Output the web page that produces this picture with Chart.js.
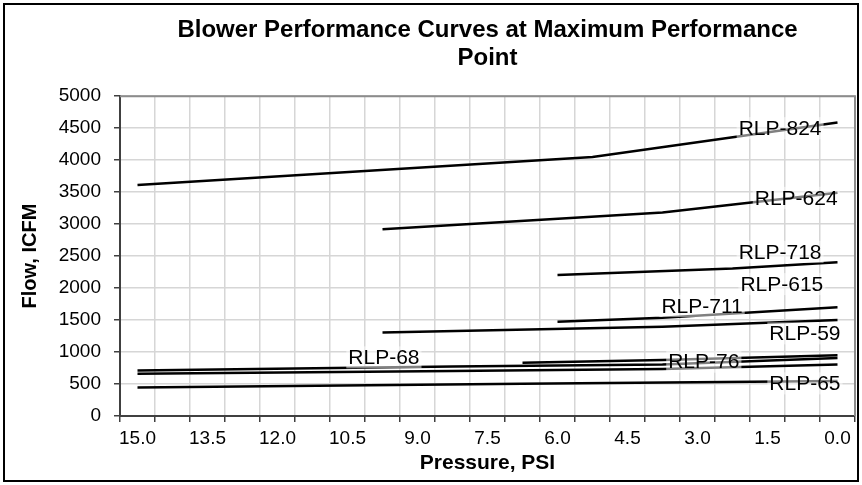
<!DOCTYPE html>
<html>
<head>
<meta charset="utf-8">
<script src="https://cdn.jsdelivr.net/npm/chart.js@4.4.1/dist/chart.umd.min.js"></script>
<style>
  html, body { margin: 0; padding: 0; background: #fff; }
  #wrap { width: 862px; height: 485px; position: relative; }
</style>
</head>
<body>
<div id="wrap"><canvas id="perfChart"></canvas></div>
<script>
// pressure categories, PSI (axis runs high -> low)
const pressures = [15.0, 14.25, 13.5, 12.75, 12.0, 11.25, 10.5, 9.75, 9.0, 8.25, 7.5,
                   6.75, 6.0, 5.25, 4.5, 3.75, 3.0, 2.25, 1.5, 0.75, 0.0];

// flow, ICFM (null = no reading at that pressure)
const rlp824 = [3610, null, null, null, null, null, null, null, null, null, null, null, null, 4050, null, null, null, null, null, null, 4590];
const rlp624 = [null, null, null, null, null, null, null, 2920, null, null, null, null, null, null, null, 3180, null, null, null, null, 3490];
const rlp718 = [null, null, null, null, null, null, null, null, null, null, null, null, 2205, null, null, null, null, 2305, null, null, 2405];
const rlp615 = [null, null, null, null, null, null, null, null, null, null, null, null, 1475, null, null, 1535, null, null, null, null, 1700];
const rlp711 = [null, null, null, null, null, null, null, 1305, null, null, null, null, null, null, null, 1395, null, null, null, null, 1500];
const rlp59  = [null, null, null, null, null, null, null, null, null, null, null, 833, null, null, null, 875, null, null, null, null, 950];
const rlp68  = [712, null, null, null, null, null, null, null, null, 775, null, null, null, null, null, 805, null, null, null, null, 905];
const rlp76  = [662, null, null, null, null, null, null, null, null, 705, null, null, null, null, null, 735, null, null, null, null, 805];
const rlp65  = [445, null, null, null, null, null, null, null, null, null, null, 505, null, null, null, null, null, null, null, null, 548];

// curve name labels: name, category position, flow
const tagNames = ['RLP-824', 'RLP-624', 'RLP-718', 'RLP-615', 'RLP-711', 'RLP-59', 'RLP-68', 'RLP-76', 'RLP-65'];
const tagAt    = [18.36, 18.82, 18.36, 18.41, 16.13, 19.07, 7.04, 16.18, 19.07];
const tagFlow  = [4500, 3411, 2567, 2062, 1719, 1292, 917, 849, 510];

const yTicks = [0, 500, 1000, 1500, 2000, 2500, 3000, 3500, 4000, 4500, 5000];

Chart.defaults.font.family = '"Liberation Sans", Arial, sans-serif';
Chart.defaults.color = '#000';

function line(name, data) {
    return {
        label: name,
        data: data,
        borderColor: '#000',
        borderWidth: 2.5,
        pointRadius: 0,
        spanGaps: true,
        tension: 0
    };
}

// gray frame on top/right of plot, black frame round the whole chart
const framePlugin = {
    id: 'frame',
    beforeDatasetsDraw(chart) {
        const { ctx, chartArea: a } = chart;
        ctx.save();
        ctx.strokeStyle = '#8c8c8c';
        ctx.lineWidth = 2;
        ctx.beginPath();
        ctx.moveTo(a.left, a.top);
        ctx.lineTo(a.right, a.top);
        ctx.lineTo(a.right, a.bottom);
        ctx.stroke();
        ctx.restore();
    },
    afterDraw(chart) {
        const { ctx } = chart;
        ctx.save();
        ctx.strokeStyle = '#000';
        ctx.lineWidth = 2;
        ctx.strokeRect(4, 4, 854, 477);
        ctx.restore();
    }
};

// curve names, with a half see-through white box like the original
const tagPlugin = {
    id: 'tags',
    afterDatasetsDraw(chart) {
        const { ctx, scales } = chart;
        ctx.save();
        ctx.font = '21px "Liberation Sans", Arial, sans-serif';
        ctx.textAlign = 'center';
        ctx.textBaseline = 'middle';
        tagNames.forEach((name, i) => {
            const x = scales.x.getPixelForValue(tagAt[i]);
            const y = scales.y.getPixelForValue(tagFlow[i]);
            const w = ctx.measureText(name).width + 4;
            ctx.fillStyle = 'rgba(255,255,255,0.5)';
            ctx.fillRect(x - w / 2, y - 11, w, 22);
            ctx.fillStyle = '#000';
            ctx.fillText(name, x, y + 1);
        });
        ctx.restore();
    }
};

new Chart(document.getElementById('perfChart'), {
    type: 'line',
    data: {
        labels: pressures,
        datasets: [
            line('RLP-824', rlp824),
            line('RLP-624', rlp624),
            line('RLP-718', rlp718),
            line('RLP-615', rlp615),
            line('RLP-711', rlp711),
            line('RLP-59', rlp59),
            line('RLP-68', rlp68),
            line('RLP-76', rlp76),
            line('RLP-65', rlp65)
        ]
    },
    options: {
        responsive: true,
        maintainAspectRatio: false,
        animation: false,
        layout: { padding: { top: 5, right: 7, left: 0, bottom: 0 } },
        plugins: {
            legend: { display: false },
            tooltip: { enabled: false },
            title: {
                display: true,
                fullSize: false,
                text: ['Blower Performance Curves at Maximum Performance', 'Point'],
                font: { size: 24, weight: 'bold', lineHeight: 1.15 },
                color: '#000',
                padding: { top: 12, bottom: 24 }
            }
        },
        scales: {
            x: {
                type: 'category',
                offset: true,
                grid: { offset: true, color: '#d6d6d6', lineWidth: 1.5, tickColor: '#404040', tickLength: 6 },
                border: { color: '#404040', width: 2 },
                ticks: {
                    autoSkip: false,
                    maxRotation: 0,
                    padding: 5,
                    font: { size: 19 },
                    callback: (v, i) => (i % 2 === 0 ? pressures[i].toFixed(1) : '')
                },
                title: {
                    display: true,
                    text: 'Pressure, PSI',
                    font: { size: 21, weight: 'bold' },
                    padding: { top: 0, bottom: 9 }
                },
                afterFit: (s) => { s.height = 69; }
            },
            y: {
                min: 0,
                max: 5000,
                afterBuildTicks: (s) => { s.ticks = yTicks.map(v => ({ value: v })); },
                grid: { color: '#d6d6d6', lineWidth: 1.5, tickColor: '#404040', tickLength: 6 },
                border: { color: '#404040', width: 2 },
                ticks: { padding: 13, font: { size: 19 }, callback: (v) => String(v) },
                title: {
                    display: true,
                    text: 'Flow, ICFM',
                    font: { size: 20, weight: 'bold' },
                    padding: { top: 18, bottom: 0 }
                },
                afterFit: (s) => { s.width = 120; }
            }
        }
    },
    plugins: [framePlugin, tagPlugin]
});
</script>
</body>
</html>
